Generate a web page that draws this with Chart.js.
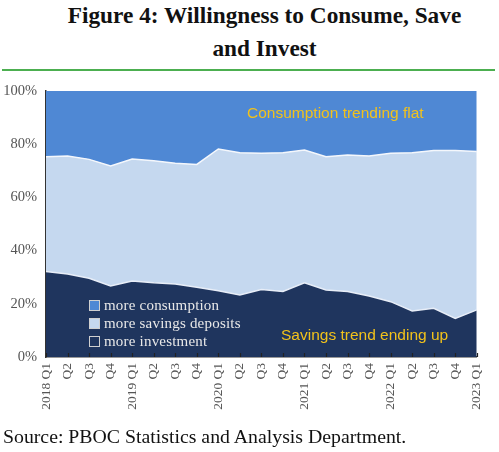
<!DOCTYPE html>
<html><head><meta charset="utf-8">
<script src="https://cdn.jsdelivr.net/npm/chart.js@4/dist/chart.umd.min.js"></script>
<style>
html,body{margin:0;padding:0;background:#fff;}
#wrap{position:relative;width:499px;height:452px;overflow:hidden;}
canvas{position:absolute;left:0;top:0;}
.t{position:absolute;left:15px;width:499px;text-align:center;font-family:"Liberation Serif","Times New Roman",serif;font-weight:bold;font-size:23.3px;color:#111;line-height:26px;}
#rule{position:absolute;left:2px;width:493px;top:69px;height:2px;background:#4caf50;}
#src{position:absolute;left:3px;top:425px;font-family:"Liberation Serif",serif;font-size:19.8px;color:#111;white-space:nowrap;}
#legend{position:absolute;left:89px;top:296px;font-family:"Liberation Serif",serif;font-size:15px;color:#e8e8e8;line-height:18px;letter-spacing:0.2px;}
#legend div{white-space:nowrap;}
#legend span{display:inline-block;width:9px;height:9px;border:1px solid #d0d0d0;margin-right:4px;vertical-align:-1px;}
.ann{position:absolute;font-family:"Liberation Sans",Arial,sans-serif;font-size:15.5px;color:#f2c21b;white-space:nowrap;}
</style></head>
<body><div id="wrap">
<div class="t" style="top:2px">Figure 4: Willingness to Consume, Save</div>
<div class="t" style="top:35px">and Invest</div>
<div id="rule"></div>
<canvas id="c" width="499" height="452"></canvas>
<div class="ann" style="left:247px;top:104px">Consumption trending flat</div>
<div class="ann" style="left:281px;top:326px">Savings trend ending up</div>
<div id="legend">
<div><span style="background:#4f88d4"></span>more consumption</div>
<div><span style="background:#c5d8ef"></span>more savings deposits</div>
<div><span style="background:#1f355e"></span>more investment</div>
</div>
<div id="src">Source: PBOC Statistics and Analysis Department.</div>
</div>
<script>
const quarters = ["2018 Q1","Q2","Q3","Q4","2019 Q1","Q2","Q3","Q4","2020 Q1","Q2","Q3","Q4","2021 Q1","Q2","Q3","Q4","2022 Q1","Q2","Q3","Q4","2023 Q1"];
const moreInvestment = [32.1,31.2,29.6,26.7,28.6,27.9,27.4,26.2,24.9,23.3,25.4,24.6,27.9,25.2,24.6,22.9,20.8,17.3,18.3,14.5,17.7];
const moreSavings = [43.2,44.4,44.7,45.1,45.8,45.9,45.4,46.2,53.3,53.5,51.2,52.2,49.9,50.1,51.3,52.7,55.8,59.5,59.3,63.1,59.6];
const moreConsumption = [24.7,24.4,25.7,28.2,25.6,26.2,27.2,27.6,21.8,23.2,23.4,23.2,22.2,24.7,24.1,24.4,23.4,23.2,22.4,22.4,22.7];
const yTicks = [0,20,40,60,80,100];

const innerTicks = {
  id:'innerTicks',
  afterDraw(chart){
    const ctx = chart.ctx, x = chart.scales.x, a = chart.chartArea;
    ctx.save(); ctx.strokeStyle='#222'; ctx.lineWidth=1.2;
    for(let i=0;i<x.ticks.length;i++){
      const px = Math.round(x.getPixelForTick(i))+0.5;
      ctx.beginPath(); ctx.moveTo(px,a.bottom); ctx.lineTo(px,a.bottom-4); ctx.stroke();
    }
    ctx.restore();
  }
};

new Chart(document.getElementById('c'),{
  type:'line',
  data:{labels:quarters,datasets:[
    {label:'more investment',data:moreInvestment,backgroundColor:'#1f355e',borderColor:'#e8eef8',borderWidth:1.5,fill:'origin',pointRadius:0,tension:0},
    {label:'more savings deposits',data:moreSavings,backgroundColor:'#c5d8ef',borderColor:'#f4f7fc',borderWidth:1.5,fill:'-1',pointRadius:0,tension:0},
    {label:'more consumption',data:moreConsumption,backgroundColor:'#4f88d4',borderColor:'rgba(0,0,0,0)',borderWidth:0,fill:'-1',pointRadius:0,tension:0}
  ]},
  options:{
    responsive:false,animation:false,
    layout:{padding:{left:0,right:20,top:91,bottom:25}},
    plugins:{legend:{display:false},tooltip:{enabled:false},title:{display:false}},
    scales:{
      x:{offset:false,grid:{display:false,drawTicks:false},border:{display:true,color:'#333',width:1.5},
        ticks:{autoSkip:false,minRotation:90,maxRotation:90,padding:6,color:'#555',font:{family:'"Liberation Serif", serif',size:13.5}},
        afterFit(s){s.height=70;}},
      y:{stacked:true,min:0,max:100,grid:{display:false,drawTicks:true,tickLength:4},border:{display:true,color:'#333',width:1.5},
        afterBuildTicks(s){s.ticks=yTicks.map(v=>({value:v}));},
        ticks:{padding:5,color:'#555',font:{family:'"Liberation Serif", serif',size:14.5},callback:v=>v+'%'},
        afterFit(s){s.width=46;}}
    }
  },
  plugins:[innerTicks]
});
</script>
</body></html>
